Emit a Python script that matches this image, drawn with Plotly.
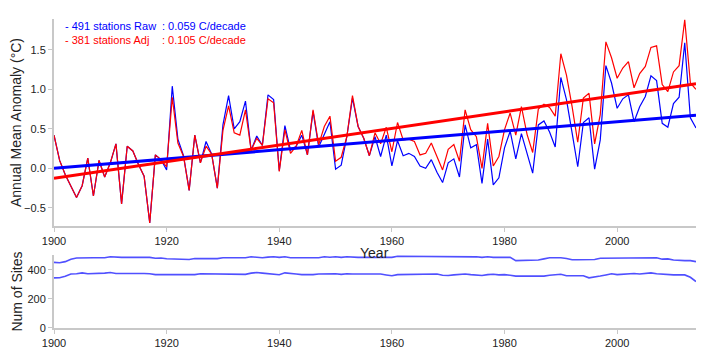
import plotly.graph_objects as go

years = list(range(1900, 2015))

raw_anom = [
    0.42, 0.10, -0.08, -0.22, -0.37, -0.22, 0.13, -0.35, 0.10, -0.11,   # 1900s
    0.07, 0.31, -0.45, 0.28, 0.22, 0.05, -0.10, -0.69, 0.17, 0.11,     # 1910s
    -0.02, 1.04, 0.37, 0.16, -0.28, 0.42, 0.07, 0.34, 0.18, -0.25,     # 1920s
    0.55, 0.92, 0.50, 0.59, 0.85, 0.23, 0.41, 0.29, 0.93, 0.87,        # 1930s
    -0.03, 0.54, 0.23, 0.28, 0.42, 0.17, 0.72, 0.27, 0.42, 0.59,       # 1940s
    -0.01, 0.04, 0.40, 0.89, 0.53, 0.38, 0.16, 0.40, 0.15, 0.42,       # 1950s
    0.03, 0.35, 0.16, 0.19, 0.15, 0.03, 0.00, 0.11, -0.05, -0.18,      # 1960s
    0.07, 0.12, -0.11, 0.55, 0.26, 0.30, -0.19, 0.37, -0.21, -0.12,    # 1970s
    0.26, 0.47, 0.12, 0.44, 0.19, -0.06, 0.55, 0.60, 0.46, 0.27,       # 1980s
    1.15, 0.87, 0.45, 0.02, 0.58, 0.64, -0.01, 0.36, 1.30, 1.08,       # 1990s
    0.76, 0.88, 0.93, 0.59, 0.78, 0.91, 1.17, 1.11, 0.57, 0.52,        # 2000s
    0.82, 0.90, 1.59, 0.64, 0.51,                                      # 2010s
]

adj_anom = [
    0.42, 0.10, -0.08, -0.22, -0.37, -0.22, 0.13, -0.35, 0.10, -0.11,
    0.07, 0.31, -0.45, 0.28, 0.22, 0.05, -0.10, -0.69, 0.17, 0.11,
    0.02, 0.90, 0.32, 0.15, -0.28, 0.42, 0.07, 0.28, 0.18, -0.25,
    0.48, 0.79, 0.45, 0.42, 0.74, 0.23, 0.38, 0.29, 0.88, 0.83,
    -0.04, 0.49, 0.19, 0.28, 0.48, 0.17, 0.74, 0.30, 0.53, 0.66,
    0.09, 0.14, 0.40, 0.92, 0.53, 0.38, 0.16, 0.45, 0.31, 0.52,
    0.21, 0.58, 0.36, 0.37, 0.34, 0.17, 0.19, 0.32, 0.14, -0.02,
    0.24, 0.30, 0.09, 0.74, 0.49, 0.40, 0.00, 0.57, 0.03, 0.15,
    0.49, 0.70, 0.42, 0.78, 0.43, 0.20, 0.75, 0.81, 0.77, 0.66,
    1.45, 1.18, 0.78, 0.33, 0.89, 0.95, 0.31, 0.68, 1.60, 1.40,
    1.14, 1.27, 1.35, 1.02, 1.20, 1.29, 1.53, 1.55, 1.06, 0.97,
    1.22, 1.30, 1.88, 1.08, 1.00,
]

raw_sites = [
    450, 447, 455, 472, 480, 482, 482, 482, 482, 482,
    488, 484, 484, 484, 484, 484, 484, 484, 478, 480,
    475, 475, 475, 475, 470, 476, 476, 476, 480, 476,
    482, 482, 482, 482, 482, 488, 484, 482, 486, 488,
    484, 488, 482, 482, 482, 482, 482, 482, 488, 485,
    488, 484, 488, 484, 484, 484, 484, 484, 484, 484,
    484, 492, 492, 492, 492, 492, 492, 492, 492, 488,
    492, 492, 492, 492, 492, 488, 484, 488, 484, 484,
    484, 484, 462, 462, 462, 462, 466, 474, 482, 482,
    482, 476, 468, 468, 468, 468, 470, 478, 478, 478,
    478, 478, 478, 478, 478, 478, 482, 482, 472, 474,
    466, 462, 462, 462, 455,
]

adj_sites = [
    344, 345, 355, 370, 372, 378, 372, 372, 372, 376,
    380, 374, 374, 374, 374, 378, 374, 372, 366, 366,
    366, 366, 366, 366, 366, 366, 372, 372, 372, 372,
    372, 372, 372, 372, 368, 376, 380, 376, 372, 368,
    365, 378, 372, 370, 366, 364, 366, 370, 372, 372,
    372, 368, 372, 370, 370, 370, 370, 370, 370, 364,
    358, 366, 366, 366, 366, 366, 366, 366, 370, 362,
    360, 364, 368, 370, 366, 362, 360, 366, 368, 364,
    366, 362, 356, 356, 356, 356, 356, 356, 362, 364,
    368, 358, 358, 358, 358, 344, 348, 356, 364, 372,
    366, 368, 372, 374, 370, 374, 378, 372, 368, 364,
    364, 364, 364, 348, 318,
]

# Linear trends (value at 1900 and slope in C/decade)
raw_trend_start, raw_slope = 0.0, 0.059
adj_trend_start, adj_slope = -0.125, 0.105
trend_years = [1900, 2014]

raw_label = "- 491 stations Raw"
adj_label = "- 381 stations Adj"
raw_rate = ": 0.059 C/decade"
adj_rate = ": 0.105 C/decade"

raw_trend = [raw_trend_start + raw_slope * (y - 1900) / 10 for y in trend_years]
adj_trend = [adj_trend_start + adj_slope * (y - 1900) / 10 for y in trend_years]

BLUE = "#0000ff"
RED = "#ff0000"
SITE_BLUE = "#5050ff"
FONT = "Liberation Sans, Arial, sans-serif"

# page has an 8px body margin; plot area spans x 54..696, y 19..328 on screen
PL, PT, PW, PH = 46, 11, 642, 309

fig = go.Figure()
fig.add_trace(go.Scatter(x=years, y=raw_anom, mode="lines",
                         line=dict(color=BLUE, width=1.2), xaxis="x", yaxis="y"))
fig.add_trace(go.Scatter(x=years, y=adj_anom, mode="lines",
                         line=dict(color=RED, width=1.2), xaxis="x", yaxis="y"))
fig.add_trace(go.Scatter(x=trend_years, y=raw_trend, mode="lines",
                         line=dict(color=BLUE, width=3), xaxis="x", yaxis="y"))
fig.add_trace(go.Scatter(x=trend_years, y=adj_trend, mode="lines",
                         line=dict(color=RED, width=3), xaxis="x", yaxis="y"))
fig.add_trace(go.Scatter(x=years, y=raw_sites, mode="lines",
                         line=dict(color=SITE_BLUE, width=1.6), xaxis="x2", yaxis="y2"))
fig.add_trace(go.Scatter(x=years, y=adj_sites, mode="lines",
                         line=dict(color=SITE_BLUE, width=1.6), xaxis="x2", yaxis="y2"))

axis_common = dict(showgrid=False, zeroline=False, showline=True, automargin=False,
                   linecolor="#c8c8c8", linewidth=2, ticks="outside",
                   ticklen=4, tickcolor="#c8c8c8", tickwidth=1,
                   tickfont=dict(family=FONT, size=11, color="#222"))
title_font = dict(family=FONT, size=14, color="#222")

fig.update_layout(
    width=712, height=352,
    margin=dict(l=PL, r=24, t=PT, b=32),
    paper_bgcolor="white", plot_bgcolor="white",
    showlegend=False,
    font=dict(family=FONT, size=11, color="#222"),
    xaxis=dict(domain=[0, 1], anchor="y", range=[1900, 2014], tick0=1900, dtick=20,
               **axis_common),
    yaxis=dict(domain=[0.330, 1], anchor="x", range=[-0.73, 1.89],
               tickvals=[-0.5, 0.0, 0.5, 1.0, 1.5], tickformat=".1f",
               title=dict(text="Annual Mean Anomaly (°C)", font=title_font, standoff=2),
               **axis_common),
    xaxis2=dict(domain=[0, 1], anchor="y2", range=[1900, 2014], tick0=1900, dtick=20,
                **axis_common),
    yaxis2=dict(domain=[0, 0.236], anchor="x2", range=[0, 500],
                tickvals=[0, 200, 400],
                title=dict(text="Num of Sites", font=title_font, standoff=2),
                **axis_common),
)

# x-axis title of the upper panel, sitting tight under its tick labels
fig.add_annotation(text="Year", xref="paper", yref="paper", x=(374 - 54) / PW, y=1 - (253 - 19) / PH,
                   xanchor="center", yanchor="middle", showarrow=False, font=title_font)

for label, rate, color, ypix in [(raw_label, raw_rate, BLUE, 25.5), (adj_label, adj_rate, RED, 39.5)]:
    yy = 1 + (19 - ypix) / PH
    fig.add_annotation(text=label, xref="paper", yref="paper", x=(63 - 54) / PW, y=yy,
                       xanchor="left", yanchor="middle", showarrow=False,
                       font=dict(family=FONT, size=11, color=color))
    fig.add_annotation(text=rate, xref="paper", yref="paper", x=(160 - 54) / PW, y=yy,
                       xanchor="left", yanchor="middle", showarrow=False,
                       font=dict(family=FONT, size=11, color=color))

fig.write_html("out.html")
